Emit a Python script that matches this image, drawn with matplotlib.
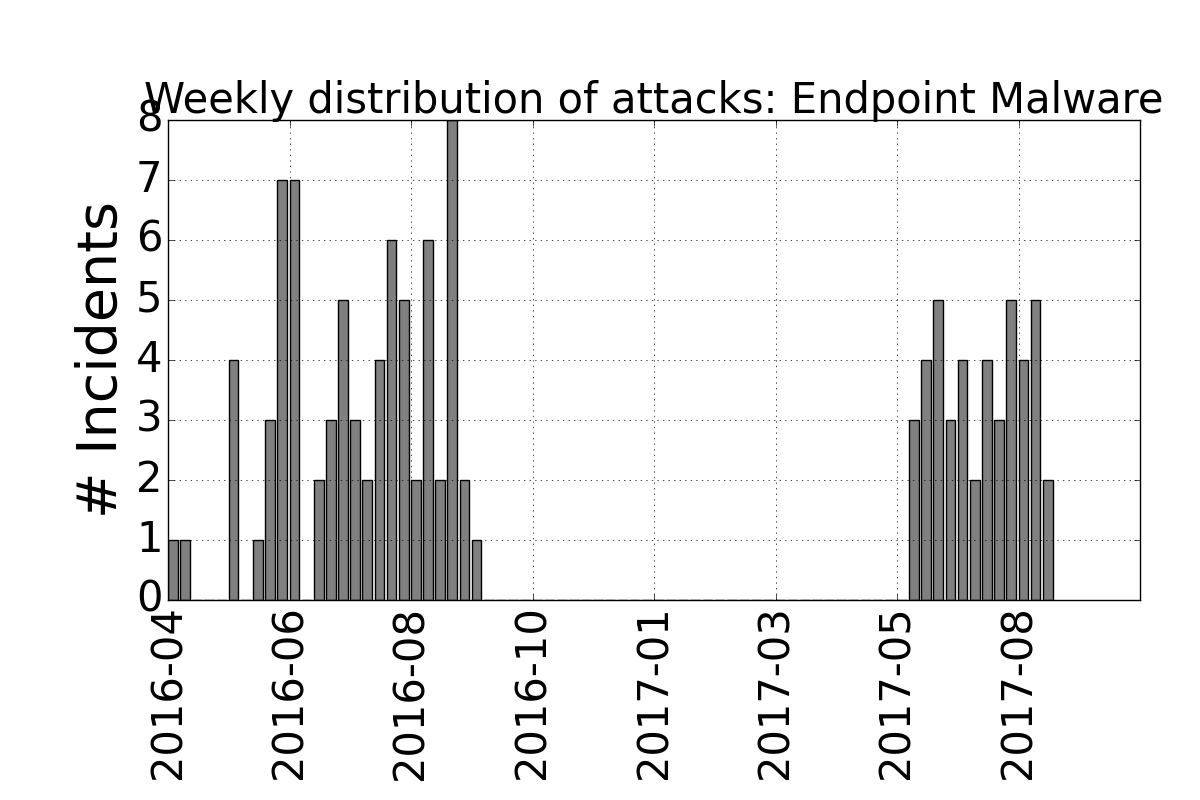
import matplotlib
matplotlib.use("Agg")
import matplotlib.pyplot as plt

plt.style.use('classic')

weekly_counts = [1, 1, 0, 0, 0, 4, 0, 1, 3, 7, 7, 0, 2, 3, 5, 3, 2, 4, 6, 5,
                 2, 6, 2, 8, 2, 1, 0, 0, 0, 0, 0, 0, 0, 0, 0, 0, 0, 0, 0, 0,
                 0, 0, 0, 0, 0, 0, 0, 0, 0, 0, 0, 0, 0, 0, 0, 0, 0, 0, 0, 0,
                 0, 3, 4, 5, 3, 4, 2, 4, 3, 5, 4, 5, 2]
tick_labels = ['2016-04', '2016-06', '2016-08', '2016-10',
               '2017-01', '2017-03', '2017-05', '2017-08']
title = 'Weekly distribution of attacks: Endpoint Malware'

fig = plt.figure(figsize=(12, 8), dpi=100, facecolor='white')
ax = fig.add_subplot(111)
fig.subplots_adjust(left=0.14, right=0.95, top=0.85, bottom=0.25)

x = list(range(len(weekly_counts)))
ax.bar(x, weekly_counts, width=0.8, align='edge', color='0.5', edgecolor='black')
ax.set_xlim(0, 80)
ax.set_ylim(0, 8)
ax.set_xticks(list(range(0, 10 * len(tick_labels), 10)))
ax.set_xticklabels(tick_labels, rotation=90, fontsize=30)
ax.tick_params(axis='y', labelsize=30)
ax.set_ylabel('# Incidents', fontsize=40)
ax.set_title(title, fontsize=30)
ax.grid(True)

fig.savefig('out.png', dpi=100, facecolor='white')
